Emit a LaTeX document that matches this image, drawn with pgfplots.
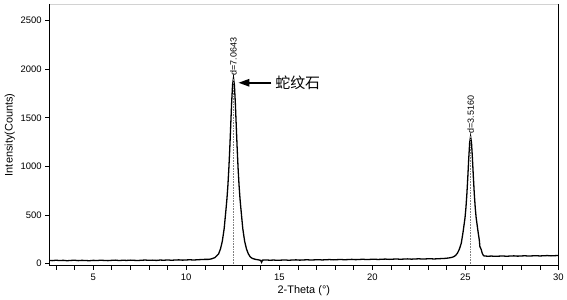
\documentclass[border=0pt]{standalone}
\usepackage{pgfplots}
\pgfplotsset{compat=1.18}
\usepackage{fontspec}
\setmainfont{Liberation Sans}
\newfontfamily\cjk{Noto Sans CJK SC}
\usetikzlibrary{arrows.meta}
\begin{document}
\begin{tikzpicture}
\begin{axis}[
  scale only axis,
  width=510bp, height=262bp,
  xmin=2.64, xmax=30, ymin=-20, ymax=2670,
  clip=false,
  axis line style={draw=none},
  xtick={5,10,...,30}, minor xtick={3,4,...,29},
  ytick={0,500,...,2500},
  xtick pos=bottom, ytick pos=left,
  tick align=outside,
  major tick length=4bp, minor tick length=4bp,
  tick style={black, line width=0.6bp},
  /pgf/number format/assume math mode=true,
  /pgf/number format/1000 sep={},
  ticklabel style={font=\fontsize{9.5}{10}\selectfont},
  xticklabel style={yshift=-1bp},
  xlabel={2-Theta (°)}, ylabel={Intensity(Counts)},
  label style={font=\fontsize{11}{12}\selectfont},
  xlabel style={yshift=2bp},
  ylabel style={yshift=-1bp},
]
\addplot[black, line width=1.3bp] coordinates {
(2.64,34)(2.8,31)(3.0,35)(3.2,32)(3.4,34)(3.6,30)(3.8,33)(4.0,35)(4.2,31)(4.4,34)
(4.6,32)(4.8,30)(5.0,34)(5.2,32)(5.4,35)(5.6,33)(5.8,31)(6.0,34)(6.2,36)(6.4,32)
(6.6,35)(6.8,33)(7.0,36)(7.2,34)(7.4,32)(7.6,35)(7.8,37)(8.0,34)(8.2,36)(8.4,33)
(8.6,37)(8.8,35)(9.0,38)(9.2,35)(9.4,37)(9.6,39)(9.8,36)(10.0,38)(10.2,40)(10.4,37)
(10.6,40)(10.8,42)(11.0,44)(11.2,44)(11.34,48)(11.44,55)(11.54,62)(11.64,80)(11.74,100)
(11.84,150)(11.94,230)(12.04,360)(12.14,563)(12.19,670)(12.24,805)(12.29,973)(12.34,1179)
(12.39,1413)(12.44,1650)(12.49,1837)(12.54,1908)(12.59,1837)(12.64,1650)(12.69,1413)
(12.74,1179)(12.79,973)(12.84,805)(12.89,670)(12.94,563)(13.04,360)(13.14,230)(13.24,150)
(13.34,100)(13.44,70)(13.54,55)(13.7,45)(13.85,40)(14.0,34)(14.05,14)(14.1,36)(14.3,38)
(14.5,35)(14.7,37)(14.9,34)(15.1,36)(15.3,38)(15.5,35)(15.7,37)(15.9,39)(16.1,36)(16.3,38)
(16.5,40)(16.7,37)(16.9,39)(17.1,41)(17.3,38)(17.5,40)(17.7,42)(17.9,39)(18.1,41)(18.3,43)
(18.5,40)(18.7,42)(18.9,44)(19.1,41)(19.3,43)(19.5,45)(19.7,42)(19.9,44)(20.1,46)(20.3,43)
(20.5,45)(20.7,47)(20.9,44)(21.1,46)(21.3,48)(21.5,45)(21.7,47)(21.9,49)(22.1,46)(22.3,48)
(22.5,50)(22.7,47)(22.9,49)(23.1,51)(23.3,48)(23.5,50)(23.7,52)(23.9,54)(24.1,58)(24.28,65)
(24.38,72)(24.48,85)(24.58,110)(24.68,150)(24.78,210)(24.88,330)(24.98,471)(25.03,576)
(25.08,715)(25.13,888)(25.18,1078)(25.23,1243)(25.28,1308)(25.33,1243)(25.38,1078)
(25.43,888)(25.48,715)(25.53,576)(25.58,471)(25.68,330)(25.75,240)(25.78,175)(25.82,160)
(25.86,140)(25.9,110)(25.95,90)(26.0,80)(26.2,76)(26.4,78)(26.6,75)(26.8,77)(27.0,79)
(27.2,76)(27.4,78)(27.6,80)(27.8,77)(28.0,79)(28.2,81)(28.4,78)(28.6,80)(28.8,82)(29.0,79)
(29.2,81)(29.4,83)(29.6,80)(29.8,82)(30.0,84)
};
\addplot[gray, densely dotted, line width=0.6bp] coordinates {(12.54,-20)(12.54,1908)};
\addplot[gray, densely dotted, line width=0.6bp] coordinates {(25.28,-20)(25.28,1308)};
\node[rotate=90, anchor=west, inner sep=1pt, font=\fontsize{9}{9}\selectfont] at (axis cs:12.54,1925) {d=7.0643};
\node[rotate=90, anchor=west, inner sep=1pt, font=\fontsize{9}{9}\selectfont] at (axis cs:25.28,1325) {d=3.5160};
\draw[-{Triangle[length=11bp,width=7.5bp]}, line width=1.6bp] (axis cs:14.58,1860) -- (axis cs:12.81,1860);
\node[anchor=west, inner sep=0pt, font=\cjk\fontsize{15}{15}\selectfont] at (axis cs:14.78,1860) {蛇纹石};
\draw[gray!35, line width=0.8bp] (rel axis cs:0,1) -- (rel axis cs:1,1);
\draw[black, line width=1.3bp] (rel axis cs:0,1) -- (rel axis cs:0,0) -- (rel axis cs:1,0) -- (rel axis cs:1,1);
\end{axis}
\path (current axis.south west) ++(-49.3bp,-31bp) coordinate (bl);
\path (current axis.north east) ++(7.5bp,4bp) coordinate (tr);
\useasboundingbox (bl) rectangle (tr);
\end{tikzpicture}
\end{document}
